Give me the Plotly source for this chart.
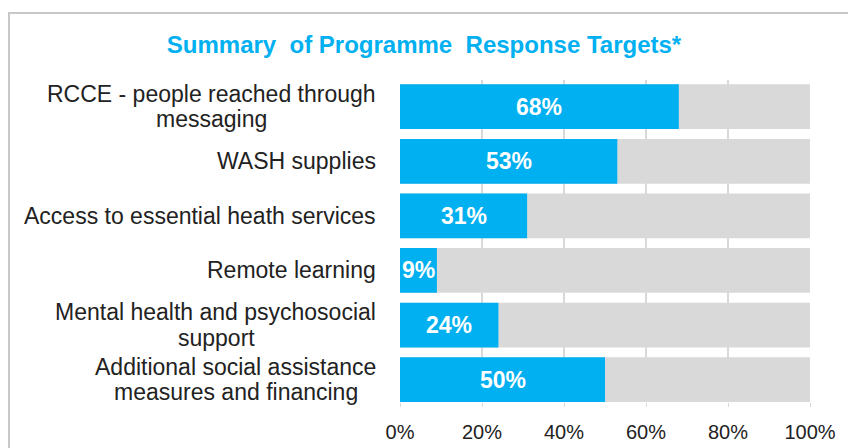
import plotly.graph_objects as go

# ── data ────────────────────────────────────────────────────────
categories = [
    ["RCCE - people reached through", "messaging"],
    ["WASH supplies"],
    ["Access to essential heath services"],
    ["Remote learning"],
    ["Mental health and psychosocial", "support"],
    ["Additional social assistance", "measures and financing"],
]
achieved = [68, 53, 31, 9, 24, 50]
target = [100, 100, 100, 100, 100, 100]
tick_vals = [0, 20, 40, 60, 80, 100]
tick_text = ["0%", "20%", "40%", "60%", "80%", "100%"]

BLUE = "#00B0F0"
GREY = "#D9D9D9"
FONT = "Liberation Sans, Arial, sans-serif"
LABEL_FONT = dict(family=FONT, size=23, color="#222222")

# x offset (px from the axis) of the centre of each wrapped label block
wrap_centre = [-189, None, None, None, -184, -164]

ids = list(range(len(categories)))

# page body has an 8px margin, so the figure is 8px smaller each way
W, H = 848, 440

fig = go.Figure()
fig.add_trace(go.Bar(
    y=ids, x=target, orientation="h", marker=dict(color=GREY, line=dict(width=0)),
    width=0.82, hoverinfo="skip", showlegend=False,
))
fig.add_trace(go.Bar(
    y=ids, x=achieved, orientation="h", marker=dict(color=BLUE, line=dict(width=0)),
    width=0.82, showlegend=False,
))

# value labels centred in the blue bars
for i, v in enumerate(achieved):
    fig.add_annotation(
        x=v / 2, y=i, text=f"{v}%", showarrow=False,
        xanchor="center", yanchor="middle",
        font=dict(family=FONT, size=23, color="white", weight="bold"),
    )

# category labels: first line right-aligned, wrapped line centred under it
for i, lines in enumerate(categories):
    if len(lines) == 1:
        fig.add_annotation(x=0, xref="paper", y=i, yref="y", text=lines[0],
                           showarrow=False, xanchor="right", yanchor="middle",
                           xshift=-22, font=LABEL_FONT)
        continue
    fig.add_annotation(x=0, xref="paper", y=i, yref="y", text=lines[0],
                       showarrow=False, xanchor="right", yanchor="middle",
                       xshift=-22, yshift=13, font=LABEL_FONT)
    fig.add_annotation(x=0, xref="paper", y=i, yref="y", text=lines[1],
                       showarrow=False, xanchor="center", yanchor="middle",
                       xshift=wrap_centre[i], yshift=-12.5, font=LABEL_FONT)

# outer frame (top and left edges)
fig.add_shape(type="line", xref="paper", yref="paper",
              x0=-392 / 410, x1=1.2, y0=1 + 67 / 322, y1=1 + 67 / 322,
              line=dict(color="#C8C8C8", width=2))
fig.add_shape(type="line", xref="paper", yref="paper",
              x0=-391 / 410, x1=-391 / 410, y0=-0.3, y1=1 + 67 / 322,
              line=dict(color="#C8C8C8", width=2))

fig.update_layout(
    width=W, height=H,
    margin=dict(l=392, r=46, t=72, b=46),
    barmode="overlay",
    plot_bgcolor="white", paper_bgcolor="white",
    title=dict(text="Summary  of Programme  Response Targets*", x=0.5 - 8 / W,
               xanchor="center", y=1 - 37 / H, yanchor="middle",
               font=dict(family=FONT, size=24, color=BLUE, weight="bold")),
    xaxis=dict(range=[0, 100], tickvals=tick_vals, ticktext=tick_text,
               showgrid=True, gridcolor=GREY, gridwidth=1.5, zeroline=False,
               ticks="outside", ticklen=4, tickcolor=GREY, ticklabelstandoff=8,
               automargin=False,
               tickfont=dict(family=FONT, size=20, color="#222222"), fixedrange=True),
    yaxis=dict(range=[5.41, -0.49], showticklabels=False, showgrid=False,
               zeroline=False, fixedrange=True, automargin=False),
)

fig.write_html("out.html")
